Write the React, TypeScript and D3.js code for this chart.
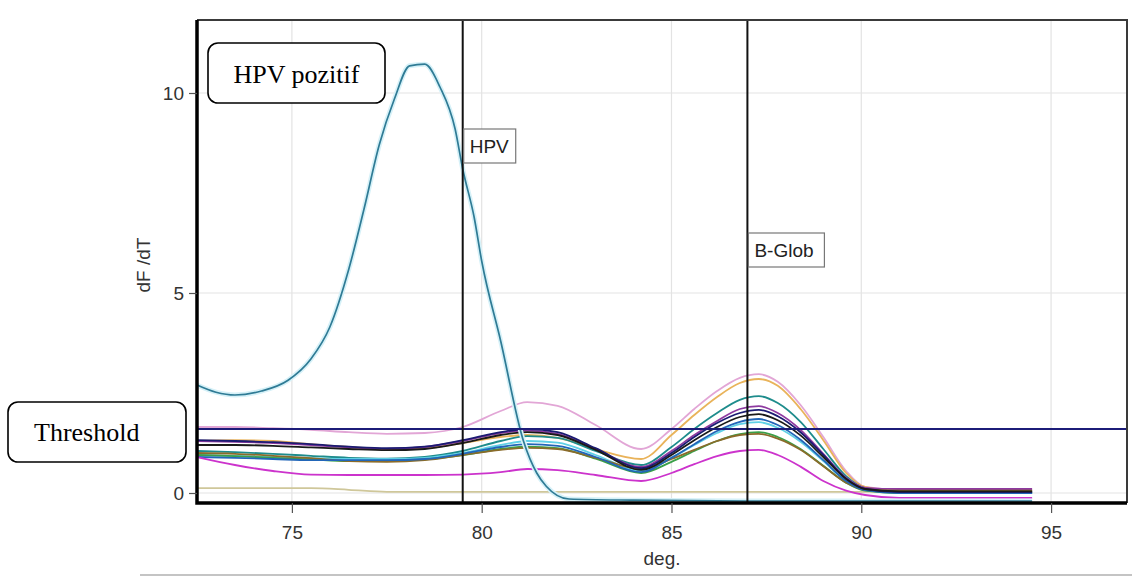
import React, { useEffect, useRef } from "react";
import * as d3 from "d3";

// melt curve temperatures (deg.) shared by the sample curves
const temps = [72.5, 73.5, 74.5, 75.5, 76.5, 77.5, 78.5, 79.5, 80.5, 81.2, 82, 83, 84.2, 85, 85.6, 86.2, 86.8, 87.3, 87.8, 88.4, 89, 89.6, 90.1, 91, 92, 93, 94.5];

const pinkValues = [1.65, 1.65, 1.62, 1.58, 1.52, 1.48, 1.5, 1.65, 2.05, 2.27, 2.18, 1.7, 1.1, 1.6, 2.1, 2.55, 2.88, 2.97, 2.78, 2.2, 1.4, 0.55, 0.15, 0.08, 0.08, 0.08, 0.08];
const orangeValues = [1.3, 1.32, 1.3, 1.22, 1.15, 1.1, 1.12, 1.25, 1.4, 1.45, 1.38, 1.1, 0.85, 1.45, 1.95, 2.4, 2.75, 2.85, 2.68, 2.1, 1.32, 0.5, 0.15, 0.05, 0.05, 0.05, 0.05];
const tealValues = [1.05, 1.02, 0.98, 0.93, 0.88, 0.86, 0.9, 1.05, 1.3, 1.42, 1.38, 1.05, 0.7, 1.15, 1.6, 2.0, 2.33, 2.42, 2.25, 1.78, 1.1, 0.42, 0.12, 0.02, 0.02, 0.02, 0.02];
const purpleValues = [1.3, 1.28, 1.25, 1.2, 1.14, 1.1, 1.15, 1.3, 1.5, 1.56, 1.48, 1.1, 0.65, 1.05, 1.45, 1.8, 2.1, 2.17, 2.0, 1.58, 0.98, 0.38, 0.13, 0.1, 0.1, 0.1, 0.1];
const navyValues = [1.32, 1.3, 1.27, 1.22, 1.16, 1.12, 1.16, 1.32, 1.52, 1.6, 1.52, 1.12, 0.62, 1.0, 1.4, 1.75, 2.0, 2.08, 1.92, 1.52, 0.95, 0.36, 0.1, 0.02, 0.02, 0.02, 0.02];
const blackValues = [1.2, 1.2, 1.18, 1.14, 1.1, 1.07, 1.1, 1.25, 1.45, 1.52, 1.45, 1.08, 0.58, 0.95, 1.32, 1.65, 1.9, 1.97, 1.82, 1.44, 0.9, 0.35, 0.1, 0.04, 0.04, 0.04, 0.04];
const cyanValues = [0.95, 0.93, 0.9, 0.87, 0.85, 0.85, 0.88, 1.0, 1.2, 1.3, 1.26, 0.95, 0.55, 0.88, 1.2, 1.5, 1.72, 1.77, 1.63, 1.28, 0.8, 0.3, 0.08, 0.0, 0.0, 0.0, 0.0];
const greenValues = [0.95, 0.92, 0.88, 0.84, 0.8, 0.8, 0.84, 0.95, 1.1, 1.16, 1.12, 0.86, 0.5, 0.78, 1.05, 1.3, 1.47, 1.52, 1.4, 1.1, 0.68, 0.26, 0.06, 0.0, 0.0, 0.0, 0.0];
const oliveValues = [1.0, 0.98, 0.93, 0.87, 0.8, 0.78, 0.82, 0.95, 1.08, 1.13, 1.1, 0.88, 0.6, 0.85, 1.08, 1.3, 1.45, 1.48, 1.36, 1.08, 0.67, 0.26, 0.08, 0.06, 0.06, 0.06, 0.06];
const blueValues = [0.9, 0.88, 0.85, 0.82, 0.82, 0.82, 0.85, 0.98, 1.15, 1.22, 1.18, 0.9, 0.52, 0.88, 1.22, 1.55, 1.78, 1.85, 1.7, 1.33, 0.82, 0.3, 0.07, 0.0, 0.0, 0.0, 0.0];
const magentaValues = [0.9, 0.7, 0.55, 0.46, 0.45, 0.45, 0.45, 0.46, 0.52, 0.6, 0.57, 0.45, 0.3, 0.5, 0.72, 0.92, 1.05, 1.08, 0.95, 0.66, 0.3, 0.06, -0.05, -0.12, -0.12, -0.12, -0.12];
const tanValues = [0.12, 0.12, 0.12, 0.12, 0.08, 0.03, 0.03, 0.03, 0.03, 0.03, 0.03, 0.03, 0.03, 0.03, 0.03, 0.03, 0.03, 0.03, 0.03, 0.03, 0.03, 0.03, 0.03, 0.03, 0.03, 0.03, 0.03];

// the HPV positive sample
const hpvTemps = [72.5, 73.0, 73.5, 74.2, 74.9, 75.5, 76.0, 76.5, 76.9, 77.3, 77.7, 78.1, 78.5, 78.9, 79.3, 79.5, 79.8, 80.0, 80.5, 81.1, 81.45, 81.7, 82.3, 84, 87, 90, 94.5];
const hpvValues = [2.7, 2.52, 2.45, 2.55, 2.82, 3.35, 4.15, 5.6, 7.1, 8.7, 9.85, 10.68, 10.72, 10.15, 9.1, 8.1, 6.9, 5.8, 3.8, 1.3, 0.5, 0.17, -0.15, -0.18, -0.2, -0.2, -0.2];

const xTicks = [75, 80, 85, 90, 95];
const yTicks = [0, 5, 10];
const threshold = 1.6;
const markerNames = ["HPV", "B-Glob"];
const markerTemps = [79.5, 87.0];

const curves = [
  { color: "#cfc79a", values: tanValues },
  { color: "#e2a6d6", values: pinkValues },
  { color: "#e9b35a", values: orangeValues },
  { color: "#1e8c8c", values: tealValues },
  { color: "#8e3aa0", values: purpleValues },
  { color: "#5fd0e6", values: cyanValues },
  { color: "#3aa048", values: greenValues },
  { color: "#8a6b2a", values: oliveValues },
  { color: "#2266b8", values: blueValues },
  { color: "#1b1b72", values: navyValues },
  { color: "#1a1a1a", values: blackValues },
  { color: "#cc33cc", values: magentaValues },
];

const SANS = "'Liberation Sans', Arial, sans-serif";
const SERIF = "'Liberation Serif', 'Times New Roman', serif";

const App = () => {
  const svgRef = useRef<SVGSVGElement>(null);

  useEffect(() => {
    const svg = d3.select(svgRef.current);
    svg.selectAll("*").remove();

    const left = 197, right = 1127, top = 20, bottom = 503;

    const x = d3.scaleLinear().domain([72.5, 97]).range([left, right]);
    const y = d3.scaleLinear().domain([-0.25, 11.825]).range([bottom, top]);

    // grid
    svg.append("g").selectAll("line").data(xTicks).enter().append("line")
      .attr("x1", (d) => x(d)).attr("x2", (d) => x(d))
      .attr("y1", top).attr("y2", bottom)
      .attr("stroke", "#e3e3e3").attr("stroke-width", 1.2);
    svg.append("g").selectAll("line").data(yTicks).enter().append("line")
      .attr("x1", left).attr("x2", right)
      .attr("y1", (d) => y(d)).attr("y2", (d) => y(d))
      .attr("stroke", "#e3e3e3").attr("stroke-width", 1.2);

    // sample curves
    const line = d3.line<number>()
      .x((_, i) => x(temps[i]))
      .y((d) => y(d))
      .curve(d3.curveMonotoneX);

    svg.append("g").selectAll("path").data(curves).enter().append("path")
      .attr("d", (c) => line(c.values))
      .attr("fill", "none")
      .attr("stroke", (c) => c.color)
      .attr("stroke-width", 1.8);

    // HPV positive curve
    const hpvLine = d3.line<number>()
      .x((_, i) => x(hpvTemps[i]))
      .y((d) => y(d))
      .curve(d3.curveMonotoneX);
    svg.append("path").attr("d", hpvLine(hpvValues))
      .attr("fill", "none").attr("stroke", "#d6f1f8").attr("stroke-width", 5);
    svg.append("path").attr("d", hpvLine(hpvValues))
      .attr("fill", "none").attr("stroke", "#2f7b95").attr("stroke-width", 1.7);

    // threshold
    svg.append("line")
      .attr("x1", left).attr("x2", right)
      .attr("y1", y(threshold)).attr("y2", y(threshold))
      .attr("stroke", "#1c1c78").attr("stroke-width", 2);

    // marker lines
    svg.append("g").selectAll("line").data(markerTemps).enter().append("line")
      .attr("x1", (d) => x(d)).attr("x2", (d) => x(d))
      .attr("y1", top).attr("y2", bottom)
      .attr("stroke", "#111").attr("stroke-width", 2);

    // frame
    svg.append("path")
      .attr("d", `M${left},${top}H${right}V${bottom}`)
      .attr("fill", "none").attr("stroke", "#3a3a3a").attr("stroke-width", 2);
    svg.append("path")
      .attr("d", `M${left},${top}V${bottom}H${right}`)
      .attr("fill", "none").attr("stroke", "#000").attr("stroke-width", 3.5);

    // axes
    const xAxis = svg.append("g")
      .attr("transform", `translate(0, ${bottom})`)
      .call(d3.axisBottom(x).tickValues(xTicks).tickSize(10).tickPadding(13).tickFormat(d3.format("d")));
    const yAxis = svg.append("g")
      .attr("transform", `translate(${left}, 0)`)
      .call(d3.axisLeft(y).tickValues(yTicks).tickSize(8).tickPadding(5).tickFormat(d3.format("d")));
    [xAxis, yAxis].forEach((a) => {
      a.select(".domain").remove();
      a.selectAll("line").attr("stroke", "#555").attr("stroke-width", 1.2);
      a.selectAll("text")
        .attr("font-family", SANS).attr("font-size", 19).attr("fill", "#333");
    });

    svg.append("text")
      .attr("x", (left + right) / 2).attr("y", 565)
      .attr("text-anchor", "middle")
      .attr("font-family", SANS).attr("font-size", 19).attr("fill", "#333")
      .text("deg.");
    svg.append("text")
      .attr("transform", "translate(150, 265) rotate(-90)")
      .attr("text-anchor", "middle")
      .attr("font-family", SANS).attr("font-size", 19).attr("fill", "#333")
      .text("dF /dT");

    // marker labels
    const labelTops = [129, 233];
    const labelWidths = [52, 76];
    markerNames.forEach((name, i) => {
      const lx = x(markerTemps[i]) + 1;
      svg.append("rect")
        .attr("x", lx).attr("y", labelTops[i])
        .attr("width", labelWidths[i]).attr("height", 34)
        .attr("fill", "#fff").attr("stroke", "#777").attr("stroke-width", 1.2);
      svg.append("text")
        .attr("x", lx + 6).attr("y", labelTops[i] + 24)
        .attr("font-family", SANS).attr("font-size", 19).attr("fill", "#222")
        .text(name);
    });

    // annotation boxes
    svg.append("rect")
      .attr("x", 208).attr("y", 43).attr("width", 177).attr("height", 60)
      .attr("rx", 10).attr("fill", "#fff").attr("stroke", "#000").attr("stroke-width", 1.6);
    svg.append("text")
      .attr("x", 296.5).attr("y", 83).attr("text-anchor", "middle")
      .attr("font-family", SERIF).attr("font-size", 26).attr("fill", "#000")
      .text("HPV pozitif");

    svg.append("rect")
      .attr("x", 8).attr("y", 402).attr("width", 178).attr("height", 60)
      .attr("rx", 10).attr("fill", "#fff").attr("stroke", "#000").attr("stroke-width", 1.6);
    svg.append("text")
      .attr("x", 34).attr("y", 441)
      .attr("font-family", SERIF).attr("font-size", 26).attr("fill", "#000")
      .text("Threshold");

    // bottom separator
    svg.append("line")
      .attr("x1", 140).attr("x2", 1132).attr("y1", 575).attr("y2", 575)
      .attr("stroke", "#c4c4c4").attr("stroke-width", 2);
  }, []);

  return (
    <svg
      ref={svgRef}
      width={1132}
      height={576}
      style={{ position: "absolute", left: 0, top: 0, background: "#fff" }}
    ></svg>
  );
};

export default App;
